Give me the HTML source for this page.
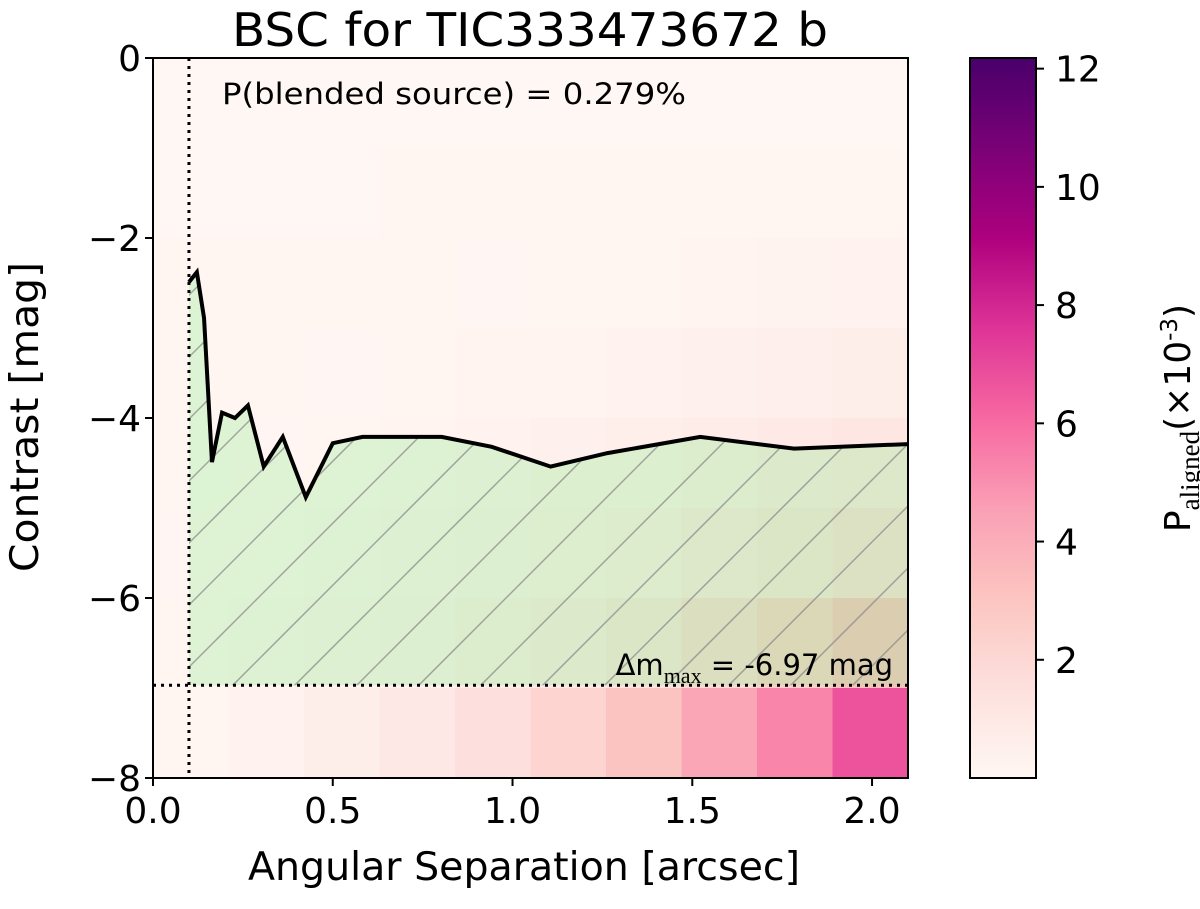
<!DOCTYPE html>
<html><head><meta charset="utf-8"><style>
html,body{margin:0;padding:0;background:#fff;}
svg{display:block;font-family:"DejaVu Sans","Liberation Sans",sans-serif;}
</style></head><body>
<svg id="chart" width="1200" height="909" viewBox="0 0 1200 909" xmlns="http://www.w3.org/2000/svg">
<defs>
<linearGradient id="cbgrad" x1="0" y1="1" x2="0" y2="0">
<stop offset="0" stop-color="#fff7f3"/><stop offset="0.125" stop-color="#fde0dd"/><stop offset="0.25" stop-color="#fcc5c0"/><stop offset="0.375" stop-color="#fa9fb5"/><stop offset="0.5" stop-color="#f768a1"/><stop offset="0.625" stop-color="#dd3497"/><stop offset="0.75" stop-color="#ae017e"/><stop offset="0.875" stop-color="#7a0177"/><stop offset="1" stop-color="#49006a"/>
</linearGradient>
<clipPath id="fillclip"><path id="clipPathShape"/></clipPath>
</defs>
<g id="heat"></g>
<g id="fillg"></g>
<g id="lines"></g>
<rect x="153" y="58" width="755" height="720" fill="none" stroke="#000" stroke-width="2"/>
<g id="axes"></g>
<text x="530" y="46" text-anchor="middle" font-size="46" textLength="596" lengthAdjust="spacingAndGlyphs">BSC for TIC333473672 b</text>
<text x="222" y="104" font-size="29" textLength="464" lengthAdjust="spacingAndGlyphs">P(blended source) = 0.279%</text>
<text x="893" y="675" text-anchor="end" font-size="29">Δm<tspan font-family="Liberation Serif" font-size="22" dy="8">max</tspan><tspan dy="-8"> =  -6.97 mag</tspan></text>
<text x="524" y="880" text-anchor="middle" font-size="39" textLength="552" lengthAdjust="spacingAndGlyphs">Angular Separation [arcsec]</text>
<text transform="translate(38,417) rotate(-90)" text-anchor="middle" font-size="39" textLength="310" lengthAdjust="spacingAndGlyphs">Contrast [mag]</text>
<rect x="970" y="58" width="66" height="720" fill="url(#cbgrad)" stroke="#000" stroke-width="2"/>
<g id="cbticks"></g>
<text transform="translate(1190,418) rotate(-90)" text-anchor="middle" font-size="36">P<tspan font-family="Liberation Serif" font-size="27" dy="9">aligned</tspan><tspan dy="-9">(×10</tspan><tspan font-size="23" dy="-13">-3</tspan><tspan dy="13">)</tspan></text>
</svg>
<script>
const xTicks = [0.0, 0.5, 1.0, 1.5, 2.0];
const xTickLabels = ["0.0", "0.5", "1.0", "1.5", "2.0"];
const yTicks = [0, -2, -4, -6, -8];
const yTickLabels = ["0", "\u22122", "\u22124", "\u22126", "\u22128"];
const cbTicks = [2, 4, 6, 8, 10, 12];
const sepEdges = [0, 0.21, 0.42, 0.63, 0.84, 1.05, 1.26, 1.47, 1.68, 1.89, 2.1];
const magEdges = [0, -1, -2, -3, -4, -5, -6, -7, -8];
const heatRow0 = [0.02,0.02,0.02,0.02,0.02,0.02,0.02,0.02,0.02,0.02];
const heatRow1 = [0.03,0.03,0.03,0.04,0.04,0.05,0.05,0.06,0.07,0.08];
const heatRow2 = [0.05,0.06,0.07,0.08,0.1,0.12,0.15,0.2,0.25,0.3];
const heatRow3 = [0.06,0.08,0.1,0.14,0.18,0.22,0.3,0.4,0.5,0.6];
const heatRow4 = [0.08,0.1,0.15,0.2,0.3,0.4,0.55,0.7,0.9,1.1];
const heatRow5 = [0.1,0.15,0.2,0.3,0.45,0.6,0.8,1.1,1.4,1.8];
const heatRow6 = [0.12,0.2,0.3,0.45,0.7,1.0,1.4,1.9,2.5,3.2];
const heatRow7 = [0.12,0.3,0.6,1.0,1.5,2.2,3.1,4.3,5.3,6.7];
const curveSep = [0.100,0.122,0.142,0.164,0.192,0.228,0.264,0.308,0.361,0.425,0.5,0.583,0.803,0.942,1.106,1.264,1.522,1.783,2.1];
const curveMag = [-2.49,-2.38,-2.89,-4.49,-3.94,-4.0,-3.86,-4.54,-4.21,-4.88,-4.28,-4.21,-4.21,-4.32,-4.54,-4.39,-4.21,-4.34,-4.29];
const innerSep = 0.1;
const deltaMMax = -6.97;
const vMax = 12.18;

const NS = "http://www.w3.org/2000/svg";
const X0 = 153, X1 = 908, Y0 = 58, Y1 = 778;
const xs = v => X0 + (v - 0) / 2.1 * (X1 - X0);
const ys = v => Y0 + (0 - v) / 8 * (Y1 - Y0);
const cs = v => Y1 - v / vMax * (Y1 - Y0);
const rdpu = [[255,247,243],[253,224,221],[252,197,192],[250,159,181],[247,104,161],[221,52,151],[174,1,126],[122,1,119],[73,0,106]];
function cmap(v){
  let t = Math.max(0, Math.min(1, v / vMax)) * 8;
  let i = Math.min(7, Math.floor(t)), f = t - i;
  const a = rdpu[i], b = rdpu[i+1];
  return "rgb(" + a.map((c,k)=>Math.round(c + (b[k]-c)*f)).join(",") + ")";
}
function mk(tag, attrs, parent){
  const e = document.createElementNS(NS, tag);
  for (const k in attrs) e.setAttribute(k, attrs[k]);
  parent.appendChild(e);
  return e;
}
const heat = document.getElementById("heat");
const rows = [heatRow0,heatRow1,heatRow2,heatRow3,heatRow4,heatRow5,heatRow6,heatRow7];
rows.forEach((row, r) => {
  row.forEach((v, c) => {
    const x = xs(sepEdges[c]), w = xs(sepEdges[c+1]) - x;
    const y = ys(magEdges[r]), h = ys(magEdges[r+1]) - y;
    const el = mk("rect", {x: x, y: y, width: w + 0.5, height: h + 0.5, fill: cmap(v)}, heat);
    
    
  });
});
const fillg = document.getElementById("fillg");
let d = "M" + xs(curveSep[0]) + "," + ys(deltaMMax);
curveSep.forEach((s,i) => { d += " L" + xs(s) + "," + ys(curveMag[i]); });
d += " L" + xs(curveSep[curveSep.length-1]) + "," + ys(deltaMMax) + " Z";
document.getElementById("clipPathShape").setAttribute("d", d);
const fillEl = mk("path", {d: d, fill: "rgb(144,238,144)", "fill-opacity": 0.3, stroke: "none"}, fillg);


const hatch = mk("g", {"clip-path": "url(#fillclip)"}, fillg);


for (let x = 50; x < 1700; x += 62) {
  mk("line", {x1: x - 700, y1: 700, x2: x, y2: 0, stroke: "#8a8a8a", "stroke-opacity": 0.75, "stroke-width": 1.5}, hatch);
}
const lines = document.getElementById("lines");
const curve = mk("polyline", {points: curveSep.map((s,i)=>xs(s)+","+ys(curveMag[i])).join(" "), fill: "none", stroke: "#000", "stroke-width": 4, "stroke-linejoin": "miter"}, lines);


const vl = mk("line", {x1: xs(innerSep), y1: Y0, x2: xs(innerSep), y2: Y1, stroke: "#000", "stroke-width": 3, "stroke-dasharray": "3,5"}, lines);


const hl = mk("line", {x1: X0, y1: ys(deltaMMax), x2: X1, y2: ys(deltaMMax), stroke: "#000", "stroke-width": 3, "stroke-dasharray": "3,5"}, lines);


const axes = document.getElementById("axes");
xTicks.forEach((v,i) => {
  const x = xs(v);
  mk("line", {x1: x, y1: Y1, x2: x, y2: Y1 + 8, stroke: "#000", "stroke-width": 2}, axes);
  const t = mk("text", {x: x, y: 823, "text-anchor": "middle", "font-size": 36}, axes);
  t.textContent = xTickLabels[i];
  
  
});
yTicks.forEach((v,i) => {
  const y = ys(v);
  mk("line", {x1: X0 - 8, y1: y, x2: X0, y2: y, stroke: "#000", "stroke-width": 2}, axes);
  const t = mk("text", {x: 141, y: y + 13, "text-anchor": "end", "font-size": 36}, axes);
  t.textContent = yTickLabels[i];
  
  
});
const cbg = document.getElementById("cbticks");
cbTicks.forEach(v => {
  const y = cs(v);
  mk("line", {x1: 1036, y1: y, x2: 1044, y2: y, stroke: "#000", "stroke-width": 2}, cbg);
  const t = mk("text", {x: 1055, y: y + 13, "font-size": 36}, cbg);
  t.textContent = String(v);
  
  
});
</script>
</body></html>
